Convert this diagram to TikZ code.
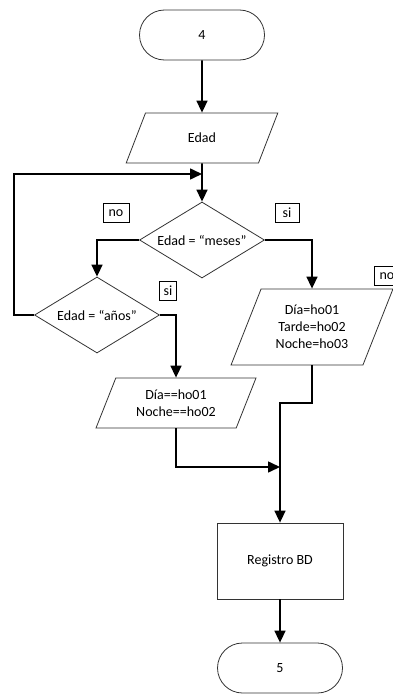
\documentclass[tikz,border=0pt]{standalone}
\usepackage{fontspec}
\setmainfont{Carlito}
\usetikzlibrary{shapes.geometric,shapes.misc,arrows.meta}

\begin{document}
\begin{tikzpicture}[x=1pt,y=-1pt,
        font=\fontsize{14}{17}\selectfont,
        term/.style={rounded rectangle,draw=black!80,line width=0.8pt,fill=white,minimum width=125pt,minimum height=50pt,inner sep=0pt},
        io/.style={trapezium,trapezium left angle=64,trapezium right angle=116,trapezium stretches=true,draw=black!80,line width=0.8pt,fill=white,align=center,inner sep=0pt},
        cond/.style={diamond,aspect=1.64,draw=black!80,line width=0.8pt,fill=white,minimum width=125pt,minimum height=76pt,inner sep=0pt},
        proc/.style={rectangle,draw=black!80,line width=0.8pt,fill=white,minimum width=126pt,minimum height=76pt},
        tag/.style={rectangle,draw,line width=0.7pt,fill=white,inner sep=0pt,minimum height=19pt},
        flow/.style={line width=1.6pt,-{Triangle[length=12pt,width=11pt]}}]
    \useasboundingbox (0,0) rectangle (393,696);

    % shapes
    \node[term] (t4) at (202,35) {4};
    \node[io,minimum width=152pt,minimum height=50pt] (edad) at (202,138) {Edad};
    \node[cond] (d1) at (202,240) {Edad = ``meses''};
    \node[cond] (d2) at (97,315) {Edad = ``años''};
    \node[io,minimum width=162pt,minimum height=76pt] (p3) at (312,327) {Día=ho01\\Tarde=ho02\\Noche=ho03};
    \node[io,minimum width=160pt,minimum height=50pt] (p2) at (176,403) {Día==ho01\\Noche==ho02};
    \node[proc] (reg) at (280,561) {Registro BD};
    \node[term] (t5) at (280,668) {5};

    % labels
    \node[tag,minimum width=26pt] (no1) at (116,213) {no};
    \node[tag,minimum width=24pt] (si1) at (287,213) {si};
    \node[tag,minimum width=17pt] (si2) at (168,291) {si};
    \node[tag,minimum width=26pt] (no2) at (387,276) {no};

    % corners of the lines
    \coordinate (loop) at (14,174);
    \coordinate (join1) at (202,174);
    \coordinate (join2) at (280,467);
    \coordinate (bend) at (280,403);

    % connectors
    \draw[flow] (t4) -- (edad);
    \draw[flow] (edad) -- (d1);
    \draw[flow] (d2.west) -| (loop) -- (join1);
    \draw[flow] (d1.west) -| (d2.north);
    \draw[flow] (d1.east) -| (p3.north);
    \draw[flow] (d2.east) -| (p2.north);
    \draw[flow] (p2.south) |- (join2);
    \draw[flow] (p3.south) |- (bend) -- (reg.north);
    \draw[flow] (reg) -- (t5);
\end{tikzpicture}
\end{document}
